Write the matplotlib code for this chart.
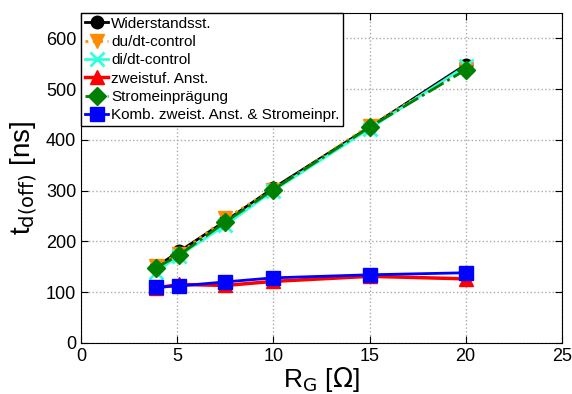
import numpy as np
import matplotlib.pyplot as plt

plt.rcParams['font.family'] = ['Liberation Sans', 'DejaVu Sans']

rg = [3.9, 5.1, 7.5, 10, 15, 20]
widerstand = [150, 180, 240, 305, 425, 548]
dudt = [152, 175, 245, 302, 428, 540]
didt = [140, 172, 232, 300, 422, 545]
zweistuf = [108, 115, 113, 121, 131, 126]
strom = [148, 173, 238, 302, 425, 538]
komb = [110, 112, 120, 128, 134, 138]

fig = plt.figure(figsize=(5.72, 3.94), dpi=100)
ax = fig.add_axes([0.142, 0.13, 0.84, 0.837])

ax.plot(rg, widerstand, color='black', lw=2, marker='o', ms=9, label='Widerstandsst.')
ax.plot(rg, dudt, color='darkorange', lw=2, ls=':', marker='v', ms=10, label='du/dt-control')
ax.plot(rg, didt, color='#33ffdd', lw=2, marker='x', ms=10, mew=2, label='di/dt-control')
ax.plot(rg, zweistuf, color='red', lw=2.5, marker='^', ms=10, label='zweistuf. Anst.')
ax.plot(rg, strom, color='green', lw=2, ls='-.', marker='D', ms=9, label='Stromeinprägung')
ax.plot(rg, komb, color='blue', lw=2, marker='s', ms=10, label='Komb. zweist. Anst. & Stromeinpr.')

ax.set_xlim(0, 25)
ax.set_ylim(0, 650)
ax.set_xticks([0, 5, 10, 15, 20, 25])
ax.set_yticks([0, 100, 200, 300, 400, 500, 600])
ax.tick_params(direction='in', labelsize=13, length=5, top=True, right=True)
ax.grid(True, ls=':', color='#aaaaaa', lw=1)
ax.set_xlabel(r'R$_\mathrm{G}$ [$\Omega$]', fontsize=19, labelpad=0)
ax.set_ylabel(r't$_\mathrm{d(off)}$ [ns]', fontsize=20, labelpad=4)

leg = ax.legend(loc='upper left', fontsize=11, fancybox=False, edgecolor='black',
                framealpha=1, borderpad=0.25, labelspacing=0.28, handlelength=1.5,
                handletextpad=0.2, borderaxespad=0)
leg.get_frame().set_linewidth(1)

fig.savefig('out.png', dpi=100)
